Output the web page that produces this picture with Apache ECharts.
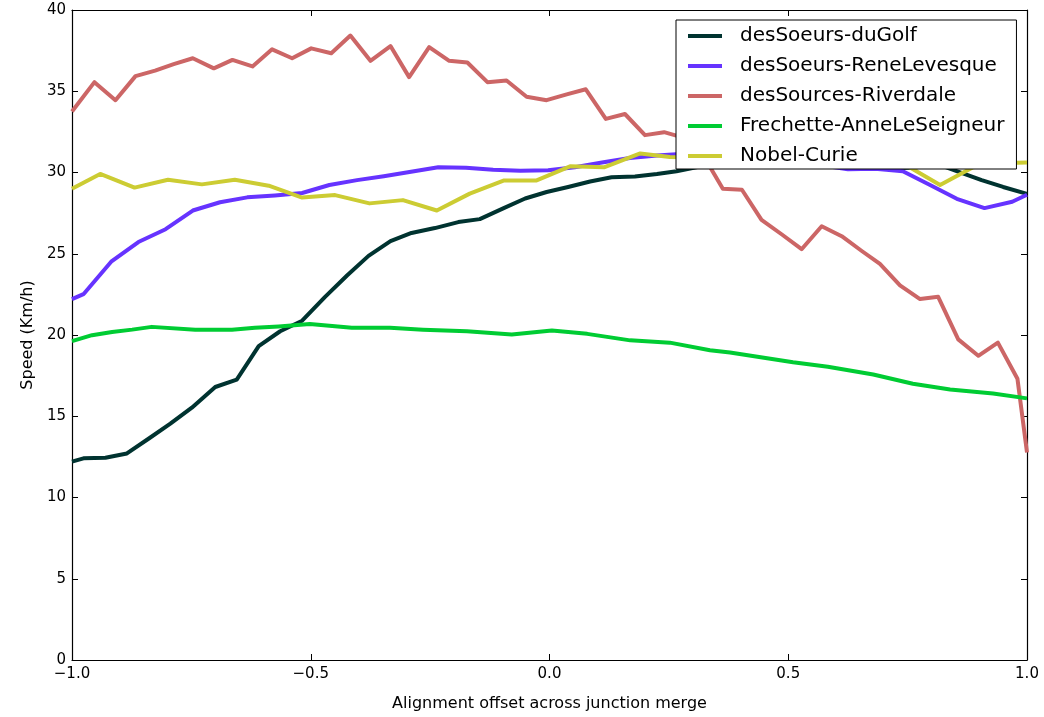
<!DOCTYPE html>
<html>
<head>
<meta charset="utf-8">
<script src="https://cdn.jsdelivr.net/npm/echarts@6/dist/echarts.min.js"></script>
<style>
  html, body { margin: 0; padding: 0; background: #ffffff; }
  #chart { width: 1044px; height: 717px; }
</style>
</head>
<body>
<div id="chart"></div>
<script>
// Series names
const seriesNames = [
  'desSoeurs-duGolf',
  'desSoeurs-ReneLevesque',
  'desSources-Riverdale',
  'Frechette-AnneLeSeigneur',
  'Nobel-Curie'
];
const seriesColors = ['#003330', '#6633ff', '#cc6666', '#00cc33', '#cccc33'];

// x positions (alignment offset) and speeds (km/h) for each junction
const golfX = [-1.0, -0.976, -0.930, -0.885, -0.839, -0.794, -0.749, -0.700, -0.655, -0.609, -0.564, -0.518, -0.470, -0.424, -0.379, -0.333, -0.289, -0.240, -0.191, -0.146, -0.097, -0.051, -0.006, 0.039, 0.085, 0.130, 0.179, 0.225, 0.266, 0.315, 0.361, 0.406, 0.451, 0.497, 0.542, 0.587, 0.633, 0.678, 0.724, 0.769, 0.814, 0.860, 0.905, 0.950, 1.0];
const golfY = [12.21, 12.41, 12.45, 12.71, 13.63, 14.54, 15.53, 16.80, 17.25, 19.32, 20.23, 20.88, 22.35, 23.66, 24.87, 25.78, 26.28, 26.58, 26.95, 27.13, 27.79, 28.40, 28.80, 29.11, 29.45, 29.71, 29.75, 29.91, 30.08, 30.36, 30.50, 30.56, 30.56, 30.56, 30.50, 30.44, 30.38, 30.32, 30.26, 30.32, 30.50, 30.01, 29.53, 29.11, 28.68];

const reneX = [-1.0, -0.976, -0.918, -0.861, -0.804, -0.747, -0.690, -0.633, -0.575, -0.518, -0.461, -0.403, -0.347, -0.290, -0.233, -0.175, -0.118, -0.061, -0.003, 0.053, 0.110, 0.168, 0.225, 0.282, 0.339, 0.397, 0.453, 0.510, 0.569, 0.625, 0.682, 0.740, 0.797, 0.853, 0.911, 0.969, 1.0];
const reneY = [22.21, 22.51, 24.51, 25.72, 26.51, 27.66, 28.17, 28.47, 28.59, 28.74, 29.23, 29.53, 29.77, 30.05, 30.32, 30.29, 30.17, 30.11, 30.14, 30.32, 30.62, 30.89, 31.04, 31.16, 31.23, 31.16, 30.98, 30.74, 30.44, 30.20, 30.23, 30.08, 29.23, 28.38, 27.81, 28.20, 28.63];

const riverX = [-1.0, -0.953, -0.909, -0.867, -0.826, -0.787, -0.747, -0.703, -0.664, -0.622, -0.581, -0.539, -0.499, -0.457, -0.417, -0.375, -0.333, -0.294, -0.252, -0.210, -0.172, -0.130, -0.090, -0.048, -0.006, 0.036, 0.076, 0.118, 0.158, 0.200, 0.240, 0.282, 0.322, 0.363, 0.403, 0.444, 0.486, 0.528, 0.570, 0.612, 0.654, 0.692, 0.734, 0.776, 0.814, 0.856, 0.898, 0.939, 0.980, 1.0];
const riverY = [33.75, 35.56, 34.45, 35.93, 36.27, 36.67, 37.03, 36.41, 36.93, 36.53, 37.58, 37.03, 37.64, 37.34, 38.43, 36.87, 37.78, 35.87, 37.72, 36.87, 36.77, 35.56, 35.66, 34.66, 34.45, 34.81, 35.12, 33.30, 33.60, 32.30, 32.48, 32.13, 31.04, 29.00, 28.94, 27.09, 26.20, 25.28, 26.69, 26.08, 25.17, 24.37, 23.06, 22.21, 22.35, 19.73, 18.72, 19.53, 17.31, 12.77];

const frechX = [-1.0, -0.958, -0.916, -0.874, -0.833, -0.742, -0.665, -0.617, -0.567, -0.502, -0.414, -0.334, -0.265, -0.173, -0.079, 0.005, 0.079, 0.169, 0.252, 0.336, 0.378, 0.510, 0.583, 0.678, 0.761, 0.839, 0.929, 1.0];
const frechY = [19.62, 19.99, 20.19, 20.33, 20.50, 20.33, 20.33, 20.44, 20.53, 20.68, 20.44, 20.44, 20.33, 20.23, 20.03, 20.27, 20.07, 19.67, 19.53, 19.06, 18.92, 18.32, 18.05, 17.57, 17.00, 16.64, 16.40, 16.10];

const curieX = [-1.0, -0.941, -0.869, -0.799, -0.728, -0.659, -0.588, -0.518, -0.449, -0.377, -0.307, -0.236, -0.167, -0.095, -0.027, 0.043, 0.114, 0.190, 0.252, 0.324, 0.395, 0.464, 0.535, 0.606, 0.675, 0.747, 0.818, 0.887, 0.958, 1.0];
const curieY = [29.00, 29.91, 29.07, 29.55, 29.27, 29.55, 29.19, 28.46, 28.61, 28.10, 28.30, 27.66, 28.70, 29.51, 29.51, 30.38, 30.32, 31.17, 30.96, 30.92, 31.04, 30.80, 30.92, 30.74, 30.68, 30.44, 29.23, 30.32, 30.59, 30.62];

// Axis ticks
const xTicks = [-1.0, -0.5, 0.0, 0.5, 1.0];
const yTicks = [0, 5, 10, 15, 20, 25, 30, 35, 40];

const seriesX = [golfX, reneX, riverX, frechX, curieX];
const seriesY = [golfY, reneY, riverY, frechY, curieY];

const pairs = (xs, ys) => xs.map((x, i) => [x, ys[i]]);
const fmtX = v => (v < 0 ? '\u2212' : '') + Math.abs(v).toFixed(1);

const chart = echarts.init(document.getElementById('chart'), null, { renderer: 'canvas' });

const axisFont = { fontFamily: 'DejaVu Sans', fontSize: 15, color: '#000' };
const nameFont = { fontFamily: 'DejaVu Sans', fontSize: 16, color: '#000' };
const frameLine = { show: true, onZero: false, lineStyle: { color: '#000', width: 1.2 } };
const inTick = { show: true, inside: true, length: 6, lineStyle: { color: '#000', width: 1 } };

chart.setOption({
  backgroundColor: '#ffffff',
  animation: false,
  grid: { left: 72, right: 17, top: 10, bottom: 46, containLabel: false },
  legend: {
    data: seriesNames,
    orient: 'vertical',
    left: 676,
    top: 20,
    padding: [6, 12, 3, 12],
    itemGap: 10,
    itemWidth: 34,
    itemHeight: 4,
    icon: 'rect',
    backgroundColor: '#ffffff',
    borderColor: '#000',
    borderWidth: 1,
    textStyle: { fontFamily: 'DejaVu Sans', fontSize: 20, color: '#000', lineHeight: 18, padding: [0, 0, 0, 13] }
  },
  xAxis: [
    {
      type: 'value', min: -1, max: 1, interval: 0.5, position: 'bottom',
      name: 'Alignment offset across junction merge', nameLocation: 'middle', nameGap: 36,
      nameTextStyle: nameFont,
      axisLine: frameLine, axisTick: inTick, splitLine: { show: false },
      axisLabel: { ...axisFont, margin: 7, formatter: fmtX, customValues: xTicks }
    },
    {
      type: 'value', min: -1, max: 1, interval: 0.5, position: 'top',
      axisLine: frameLine, axisTick: inTick, splitLine: { show: false },
      axisLabel: { show: false }
    }
  ],
  yAxis: [
    {
      type: 'value', min: 0, max: 40, interval: 5, position: 'left',
      name: 'Speed (Km/h)', nameLocation: 'middle', nameGap: 34,
      nameTextStyle: nameFont,
      axisLine: frameLine, axisTick: inTick, splitLine: { show: false },
      axisLabel: { ...axisFont, margin: 6, customValues: yTicks }
    },
    {
      type: 'value', min: 0, max: 40, interval: 5, position: 'right',
      axisLine: frameLine, axisTick: inTick, splitLine: { show: false },
      axisLabel: { show: false }
    }
  ],
  series: seriesNames.map((name, i) => ({
    name,
    type: 'line',
    xAxisIndex: 0,
    yAxisIndex: 0,
    data: pairs(seriesX[i], seriesY[i]),
    showSymbol: false,
    symbol: 'none',
    clip: true,
    color: seriesColors[i],
    lineStyle: { width: 4, color: seriesColors[i], join: 'round' }
  }))
});
</script>
</body>
</html>
